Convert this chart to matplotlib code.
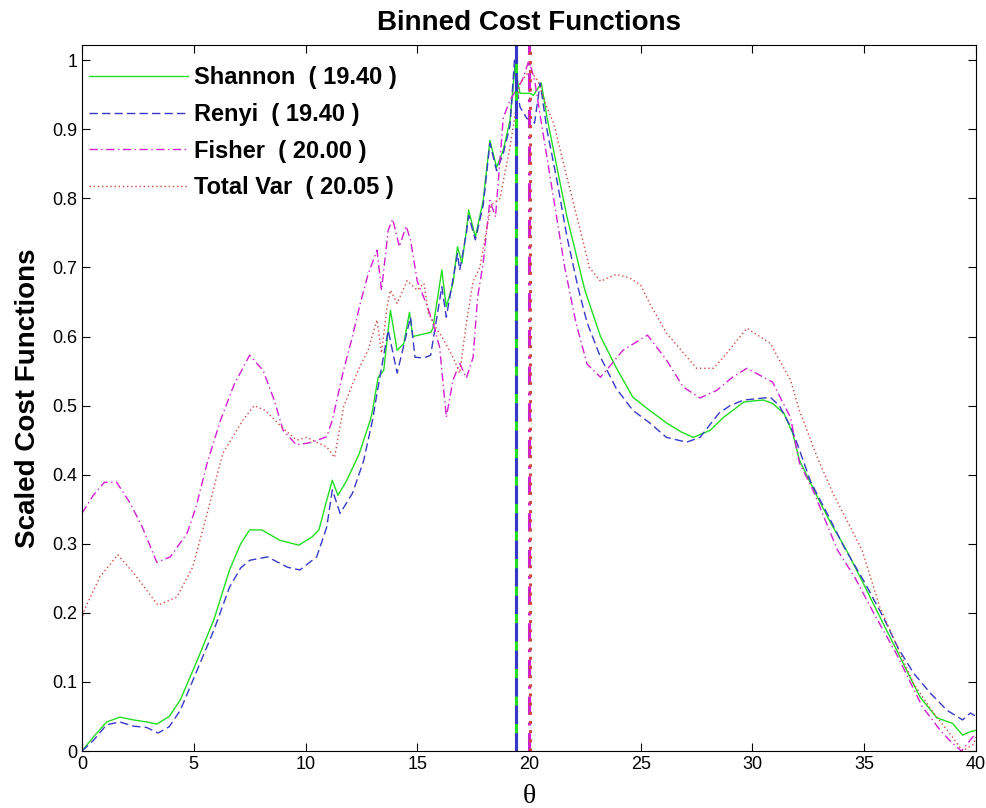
import matplotlib
matplotlib.use("Agg")
import matplotlib.pyplot as plt
import numpy as np

title = "Binned Cost Functions"
xlabel = "θ"
ylabel = "Scaled Cost Functions"
names = ["Shannon", "Renyi", "Fisher", "Total Var"]
optima = [19.40, 19.40, 20.00, 20.05]

shannon_x = [0, 0.5, 1.1, 1.7, 2.3, 2.9, 3.35, 3.9, 4.4, 5.1, 5.9, 6.6, 7.1, 7.5, 8.05, 8.85, 9.7, 10.3, 10.6,
             10.95, 11.2, 11.45, 11.85, 12.4, 12.9, 13.0, 13.25, 13.5, 13.8, 14.1, 14.4, 14.65, 14.8, 15.2, 15.6,
             15.7, 16.1, 16.3, 16.6, 16.8, 17.0, 17.2, 17.3, 17.6, 17.95, 18.25, 18.55, 18.85, 19.15, 19.4, 19.45,
             19.6, 20.05, 20.2, 20.55, 20.8, 21.25, 21.7, 21.95, 22.5, 23.2, 23.9, 24.65, 25.4, 26.15, 26.8,
             27.35, 28.1, 28.7, 29.2, 29.6, 30.1, 30.5, 30.9, 31.4, 31.8, 32.1, 32.9, 33.5, 34.2, 35.0, 35.7,
             36.45, 37.0, 37.5, 38.25, 38.95, 39.4, 39.75, 40]
shannon_y = [0.0, 0.02, 0.042, 0.049, 0.045, 0.042, 0.039, 0.05, 0.074, 0.127, 0.19, 0.262, 0.3, 0.32, 0.32,
             0.305, 0.298, 0.31, 0.32, 0.363, 0.392, 0.37, 0.392, 0.43, 0.479, 0.493, 0.541, 0.551, 0.638, 0.58,
             0.59, 0.635, 0.6, 0.603, 0.606, 0.612, 0.696, 0.643, 0.677, 0.73, 0.706, 0.754, 0.783, 0.744, 0.797,
             0.884, 0.845, 0.87, 0.913, 1.0, 0.975, 0.952, 0.952, 0.949, 0.967, 0.918, 0.845, 0.773, 0.74, 0.667,
             0.6, 0.555, 0.512, 0.493, 0.475, 0.462, 0.454, 0.464, 0.483, 0.495, 0.505, 0.507, 0.508, 0.503,
             0.489, 0.46, 0.421, 0.368, 0.33, 0.291, 0.24, 0.194, 0.146, 0.11, 0.078, 0.048, 0.04, 0.023, 0.028,
             0.03]

renyi_x = [0, 0.5, 1.1, 1.7, 2.3, 2.9, 3.4, 3.9, 4.4, 5.1, 5.9, 6.6, 7.1, 7.5, 8.3, 9.2, 9.75, 10.5, 10.95,
           11.2, 11.55, 12.1, 12.6, 13.0, 13.2, 13.7, 14.1, 14.7, 14.9, 15.3, 15.6, 16.1, 16.3, 16.8, 16.9, 17.2,
           17.3, 17.6, 17.95, 18.25, 18.55, 18.85, 19.15, 19.35, 19.45, 19.6, 19.9, 20.25, 20.5, 20.8, 21.25,
           21.7, 22.2, 22.6, 23.2, 23.9, 24.65, 25.4, 26.15, 27.05, 27.65, 28.5, 29.0, 29.6, 30.2, 30.8, 31.2,
           31.7, 32.0, 32.6, 33.4, 34.1, 35.0, 35.85, 36.5, 37.2, 37.95, 38.7, 39.4, 39.75, 40]
renyi_y = [0.0, 0.015, 0.038, 0.042, 0.036, 0.034, 0.026, 0.035, 0.059, 0.113, 0.175, 0.237, 0.265, 0.276,
           0.281, 0.266, 0.262, 0.281, 0.324, 0.378, 0.344, 0.373, 0.42, 0.479, 0.518, 0.609, 0.547, 0.628, 0.57,
           0.569, 0.573, 0.672, 0.628, 0.72, 0.696, 0.75, 0.775, 0.74, 0.79, 0.88, 0.84, 0.865, 0.905, 1.0,
           0.96, 0.932, 0.916, 0.909, 0.967, 0.9, 0.826, 0.744, 0.67, 0.62, 0.57, 0.525, 0.493, 0.475, 0.454,
           0.447, 0.454, 0.489, 0.5, 0.508, 0.51, 0.512, 0.5, 0.47, 0.445, 0.39, 0.34, 0.295, 0.245, 0.194,
           0.15, 0.113, 0.084, 0.059, 0.045, 0.055, 0.05]

fisher_x = [0, 0.5, 1.0, 1.55, 2.15, 2.7, 3.35, 3.95, 4.7, 5.1, 5.6, 6.2, 6.8, 7.5, 8.1, 8.6, 9.0, 9.6, 10.3,
            10.95, 11.2, 11.7, 12.1, 12.45, 12.8, 13.2, 13.4, 13.7, 13.9, 14.2, 14.5, 14.7, 15.0, 15.4, 15.7,
            16.0, 16.3, 16.6, 16.9, 17.2, 17.5, 17.7, 17.95, 18.25, 18.5, 18.85, 19.15, 19.7, 20.0, 20.25, 20.6,
            21.1, 21.6, 22.1, 22.6, 23.2, 24.2, 25.3, 26.15, 26.9, 27.65, 28.4, 29.1, 29.75, 30.5, 30.9, 31.3,
            31.7, 32.1, 32.7, 33.8, 34.6, 35.4, 36.45, 37.6, 38.4, 38.95, 39.35, 39.85, 40]
fisher_y = [0.344, 0.37, 0.389, 0.389, 0.359, 0.324, 0.273, 0.281, 0.315, 0.353, 0.417, 0.479, 0.53, 0.573,
            0.551, 0.508, 0.464, 0.443, 0.447, 0.455, 0.479, 0.551, 0.6, 0.648, 0.69, 0.725, 0.667, 0.754,
            0.77, 0.73, 0.76, 0.74, 0.68, 0.648, 0.62, 0.585, 0.483, 0.537, 0.561, 0.54, 0.57, 0.657, 0.706,
            0.797, 0.773, 0.917, 0.942, 0.971, 1.0, 0.971, 0.9, 0.8, 0.7, 0.62, 0.56, 0.541, 0.58, 0.602, 0.566,
            0.527, 0.511, 0.522, 0.541, 0.554, 0.541, 0.534, 0.508, 0.483, 0.417, 0.378, 0.291, 0.25, 0.201,
            0.14, 0.064, 0.03, 0.011, 0.0, 0.02, 0.025]

tv_x = [0, 0.1, 0.8, 1.6, 2.3, 3.4, 4.25, 4.95, 5.6, 6.3, 7.2, 7.7, 8.2, 8.9, 9.6, 10.05, 10.95, 11.3, 11.7,
        12.35, 12.8, 13.2, 13.4, 13.65, 13.8, 14.1, 14.55, 15.0, 15.3, 15.5, 15.9, 16.1, 16.6, 16.9, 17.2, 17.5,
        17.8, 18.3, 18.7, 19.15, 19.6, 20.05, 20.4, 20.8, 21.1, 21.7, 22.4, 22.7, 23.2, 23.9, 24.5, 25.0, 25.4,
        26.15, 27.5, 28.25, 28.7, 29.75, 30.8, 31.2, 31.7, 32.1, 32.9, 33.6, 34.9, 35.7, 37.2, 38.1, 38.95,
        39.4, 39.9, 40]
tv_y = [0.19, 0.204, 0.252, 0.284, 0.258, 0.211, 0.223, 0.266, 0.344, 0.431, 0.479, 0.5, 0.493, 0.47, 0.45,
        0.454, 0.44, 0.425, 0.498, 0.551, 0.58, 0.624, 0.576, 0.643, 0.667, 0.648, 0.681, 0.667, 0.677, 0.634,
        0.609, 0.6, 0.57, 0.547, 0.62, 0.68, 0.7, 0.79, 0.8, 0.874, 0.967, 0.986, 0.97, 0.932, 0.909, 0.83,
        0.74, 0.70, 0.68, 0.69, 0.685, 0.674, 0.648, 0.605, 0.554, 0.554, 0.57, 0.612, 0.59, 0.566, 0.537,
        0.493, 0.425, 0.373, 0.291, 0.208, 0.098, 0.055, 0.02, 0.0, 0.01, 0.02]

colors = ["#22dd22", "#3838c8", "#d020d0", "#d04848"]
styles = ["-", (0, (6, 3)), (0, (6, 2.5, 1, 2.5)), (0, (1, 2))]

fig = plt.figure(figsize=(9.87, 8.08), dpi=100)
ax = fig.add_axes([82/987, 57/808, 894/987, 706/808])

series = [(shannon_x, shannon_y), (renyi_x, renyi_y), (fisher_x, fisher_y), (tv_x, tv_y)]
for (xs, ys), c, ls, n, o in zip(series, colors, styles, names, optima):
    ax.plot(xs, ys, color=c, linestyle=ls, linewidth=1.0, label=f"{n}  ( {o:.2f} )")

for c, ls, o in zip(colors, styles, optima):
    ax.axvline(o, color=c, linestyle=ls, linewidth=2.2)

ax.set_xlim(0, 40)
ax.set_ylim(0, 1.022)
ax.set_xticks(np.arange(0, 41, 5))
ax.set_yticks(np.arange(0, 1.01, 0.1))
ax.set_yticklabels(["0", "0.1", "0.2", "0.3", "0.4", "0.5", "0.6", "0.7", "0.8", "0.9", "1"])
ax.tick_params(direction="in", top=True, right=True, labelsize=13, length=6, width=0.8)
for lab in ax.get_xticklabels() + ax.get_yticklabels():
    lab.set_family("Liberation Sans")
for s in ax.spines.values():
    s.set_linewidth(0.8)

ax.set_title(title, fontsize=20, fontweight="bold", family="Liberation Sans", pad=11)
ax.set_ylabel(ylabel, fontsize=20, fontweight="bold", family="Liberation Sans", labelpad=8)
ax.set_xlabel(xlabel, fontsize=20, family="Liberation Serif", labelpad=8)

leg = ax.legend(loc="upper left", frameon=False, prop={"family": "Liberation Sans", "weight": "bold", "size": 17},
                handlelength=4.2, handletextpad=0.25, labelspacing=0.58, borderaxespad=0.2,
                bbox_to_anchor=(-0.008, 0.99))

fig.savefig("out.png", dpi=100)
